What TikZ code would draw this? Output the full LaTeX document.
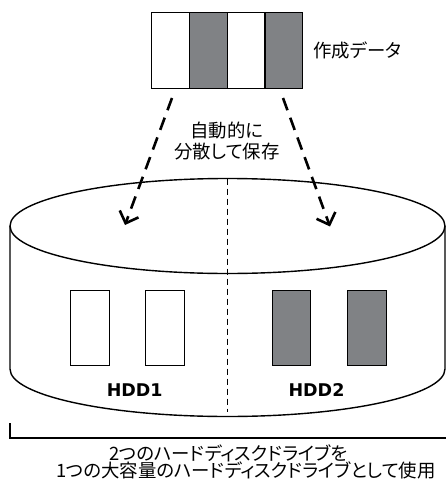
\documentclass[tikz,border=0pt]{standalone}
\usepackage{fontspec}
\newfontfamily\jpfont[RawFeature=+palt]{Noto Sans CJK JP}
\newfontfamily\hddfont{DejaVu Sans}
\usetikzlibrary{arrows.meta,positioning}
\definecolor{datagray}{RGB}{128,130,133}

\begin{document}
\begin{tikzpicture}[x=1pt, y=-1pt,
	cell/.style={draw, line width=1.4pt, minimum width=37.75pt, minimum height=76pt, inner sep=0pt},
	slot/.style={draw, line width=1pt, minimum width=38.5pt, minimum height=75.7pt, inner sep=0pt},
	jptext/.style={font=\jpfont\fontsize{18.4}{21.7}\selectfont, inner sep=0pt},
	hddtext/.style={font=\hddfont\bfseries\fontsize{17.5}{20}\selectfont, inner sep=0pt},
	flow/.style={line width=2.6pt, dash pattern=on 13pt off 8pt,
		-{Straight Barb[length=10pt, width=20pt, line width=2.6pt]}}]

		\useasboundingbox (0,0) rectangle (446,487);

		% === figure bounds ===
		\def\cx{227.5}	\def\rx{217.5pt}	\def\ry{47.5pt}
		\def\ytop{226}	\def\ybot{369}

		% === Created data (4 stripes) ===
		\foreach \i/\c in {1/white, 2/datagray, 3/white, 4/datagray} {
			\node[cell, fill=\c] (d\i) at ({151.7 + 37.75*(\i-0.5)}, 50.3) {};	% stripe
		}
		\node[jptext, anchor=west] (datalabel) at (313,50) {作成データ};

		% === Arrows into the disks ===
		\coordinate (s1) at (172,98);	\coordinate (t1) at (125,225);
		\coordinate (s2) at (283,98);	\coordinate (t2) at (330,226.5);
		\draw[flow] (s1) -- (t1);
		\draw[flow] (s2) -- (t2);
		\node[jptext, align=center] (auto) at (227,141) {自動的に\\分散して保存};

		% === Cylinder ===
		\draw[line width=1.4pt] (\cx,\ytop) ellipse [x radius=\rx, y radius=\ry];
		\draw[line width=1.4pt] (10,\ytop) -- (10,\ybot)
			arc[start angle=180, end angle=360, x radius=\rx, y radius=\ry] -- (445,\ytop);
		\draw[line width=1.3pt, dash pattern=on 6pt off 4pt] (\cx,178.5) -- (\cx,412);

		% === Disk contents ===
		\foreach \i/\x/\c in {1/90/white, 2/165.2/white, 3/291.7/datagray, 4/366.8/datagray} {
			\node[slot, fill=\c] (b\i) at (\x,327.9) {};
		}
		\node[hddtext] (hdd1) at (134.7,390) {HDD1};
		\node[hddtext] (hdd2) at (316.5,390) {HDD2};

		% === Bracket and caption ===
		\draw[line width=1.2pt] (10,423) -- (10,438) -- (446,438);
		\node[jptext] (cap1) at (228.3,453) {2つのハードディスクドライブを};
		\node[jptext] (cap2) at (245.8,470) {1つの大容量のハードディスクドライブとして使用};
	\end{tikzpicture}
\end{document}
